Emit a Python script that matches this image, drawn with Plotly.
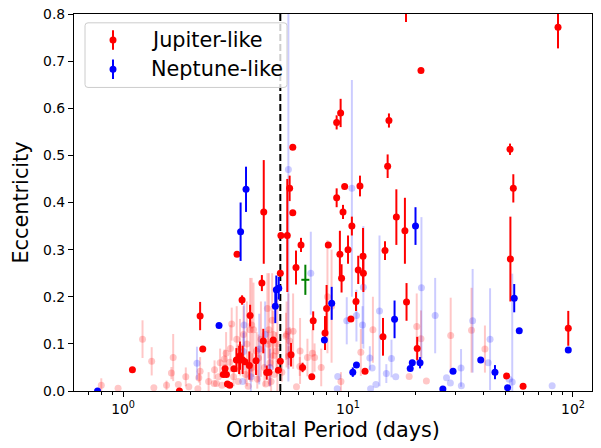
import plotly.graph_objects as go
import math

# ---------------- data ----------------
# Jupiter-like (solid red): period (days), eccentricity, 1-sigma error
jup_P = [85.8, 18.1, 21.1, 8.9, 9.27, 15.2, 5.68, 52.5, 15.0, 5.5, 8.9, 9.66, 11.3, 54.3,
         5.03, 4.22, 3.21, 5.68, 6.18, 8.17, 9.5, 10.4, 9.2, 10.0, 16.4, 17.9, 11.66, 11.1,
         11.7, 14.6, 5.87, 5.37, 5.0, 9.36, 10.85, 8.03, 7.9, 7.0, 10.3, 5.58, 5.0, 4.9, 6.28,
         6.9, 11.9, 14.3, 18.2, 20.3, 50.7, 52.7, 60.0, 95.3, 4.14, 3.38, 3.67, 2.2, 2.26,
         4.2, 4.65, 4.35, 3.64, 3.9, 3.4, 3.28, 3.48, 3.11, 2.79, 2.91, 2.98, 1.1, 1.78,
         3.19, 3.31, 4.45, 2.84, 2.88]
jup_e = [0.772, 0.84, 0.68, 0.57, 0.59, 0.574, 0.517, 0.513, 0.477, 0.43, 0.41, 0.434, 0.435, 0.43,
         0.33, 0.38, 0.29, 0.378, 0.31, 0.31, 0.38, 0.35, 0.29, 0.30, 0.369, 0.34, 0.286, 0.257,
         0.25, 0.298, 0.262, 0.33, 0.25, 0.239, 0.19, 0.175, 0.123, 0.149, 0.153, 0.077, 0.063, 0.044, 0.05,
         0.03, 0.042, 0.115, 0.189, 0.09, 0.032, 0.28, 0.01, 0.133, 0.229, 0.193, 0.16, 0.159, 0.089,
         0.106, 0.108, 0.039, 0.054, 0.064, 0.066, 0.066, 0.062, 0.047, 0.035, 0.015, 0.012, 0.045, 0.0,
         0.066, 0.075, 0.04, 0.047, 0.035]
jup_err = [0.045, 0.057, 0.0, 0.015, 0.03, 0.015, 0.0, 0.012, 0.025, 0.027, 0.02, 0.0, 0.022, 0.03,
           0.0, 0.11, 0.0, 0.0, 0.015, 0.0, 0.015, 0.02, 0.05, 0.03, 0.059, 0.07, 0.06, 0.03,
           0.04, 0.02, 0.036, 0.12, 0.0, 0.03, 0.02, 0.05, 0.036, 0.02, 0.0, 0.025, 0.0, 0.0, 0.01,
           0.0, 0.0, 0.04, 0.04, 0.025, 0.0, 0.09, 0.0, 0.037, 0.017, 0.01, 0.023, 0.03, 0.0,
           0.026, 0.0, 0.015, 0.03, 0.03, 0.03, 0.03, 0.0, 0.0, 0.0, 0.0, 0.0, 0.0, 0.0,
           0.025, 0.03, 0.0, 0.0, 0.0]

# Neptune-like (solid blue)
nep_P = [3.52, 3.33, 4.92, 4.8, 4.75, 2.67, 0.77, 8.46, 7.85, 10.5, 10.9, 16.1, 19.95, 18.9,
         19.3, 20.9, 26.4, 29.3, 38.9, 45.0, 51.2, 54.8, 57.7, 95.3]
nep_e = [0.428, 0.338, 0.218, 0.215, 0.18, 0.139, 0.0, 0.186, 0.108, 0.04, 0.055, 0.152, 0.35, 0.048,
         0.06, 0.06, 0.004, 0.042, 0.066, 0.04, 0.007, 0.197, 0.128, 0.087]
nep_err = [0.048, 0.062, 0.024, 0.03, 0.036, 0.0, 0.0, 0.035, 0.0, 0.01, 0.0, 0.04, 0.04, 0.0,
           0.0, 0.012, 0.0, 0.0, 0.0, 0.015, 0.0, 0.03, 0.0, 0.0]

# other (green) planet with period and eccentricity errors
oth_P = [6.46]
oth_e = [0.236]
oth_Perr_plus = [0.27]
oth_Perr_minus = [0.26]
oth_eerr = [0.032]

# faded Jupiter-like (light red)
fj_P = [0.8, 0.95, 1.22, 1.34, 1.37, 1.56, 1.64, 1.67, 1.76, 1.96, 2.2, 2.17, 2.15, 2.54, 2.65,
        2.6, 2.87, 2.84, 2.82, 2.98, 3.04, 3.31, 3.43, 3.73, 3.92, 4.38, 4.42, 4.65, 4.65, 4.8,
        5.33, 5.45, 5.5, 6.12, 6.1, 6.6, 5.9, 5.43, 12.9, 11.4, 20.2, 21.1, 18.7, 22.3, 28.6,
        35.4, 40.6, 8.1, 8.45, 6.95, 7.1, 5.7, 5.3, 5.08, 2.4, 2.55, 2.7, 2.75, 3.0, 3.1, 3.2,
        3.25, 3.5, 3.55, 3.6, 3.75, 3.8, 3.95, 4.0, 4.1, 4.25, 4.3, 4.5, 4.55, 4.7, 4.85,
        3.67, 4.45, 4.6, 7.6, 9.3, 1.9]
fj_e = [0.012, 0.006, 0.11, 0.063, 0.007, 0.012, 0.038, 0.071, 0.014, 0.009, 0.042, 0.028, 0.005, 0.016, 0.03,
        0.016, 0.08, 0.05, 0.068, 0.061, 0.142, 0.093, 0.12, 0.14, 0.085, 0.175, 0.099, 0.12, 0.075, 0.085,
        0.12, 0.075, 0.106, 0.085, 0.052, 0.071, 0.009, 0.127, 0.13, 0.082, 0.137, 0.111, 0.031, 0.021, 0.118,
        0.129, 0.089, 0.2, 0.18, 0.08, 0.071, 0.127, 0.116, 0.04, 0.02, 0.045, 0.06, 0.012, 0.09, 0.03, 0.11,
        0.02, 0.035, 0.1, 0.01, 0.05, 0.13, 0.025, 0.07, 0.11, 0.05, 0.015, 0.06, 0.02, 0.035, 0.1,
        0.13, 0.13, 0.15, 0.05, 0.02, 0.03]
fj_err = [0.015, 0.0, 0.04, 0.03, 0.0, 0.01, 0.013, 0.05, 0.0, 0.0, 0.03, 0.01, 0.0, 0.0, 0.0,
          0.0, 0.045, 0.0, 0.02, 0.0, 0.035, 0.06, 0.06, 0.1, 0.04, 0.075, 0.03, 0.05, 0.03, 0.04,
          0.07, 0.02, 0.03, 0.07, 0.02, 0.04, 0.0, 0.08, 0.07, 0.05, 0.07, 0.06, 0.0, 0.0, 0.08,
          0.09, 0.05, 0.12, 0.12, 0.05, 0.03, 0.08, 0.05, 0.02, 0.02, 0.02, 0.03, 0.0, 0.05, 0.02, 0.07,
          0.0, 0.02, 0.09, 0.0, 0.03, 0.1, 0.02, 0.05, 0.08, 0.04, 0.0, 0.05, 0.02, 0.0, 0.1,
          0.11, 0.12, 0.1, 0.04, 0.02, 0.02]

# faded Neptune-like (light blue)
fn_P = [2.13, 3.4, 3.43, 3.45, 4.03, 4.28, 5.43, 6.83, 9.87, 10.4, 10.9, 11.7, 11.6, 13.8,
        9.0, 8.95, 12.5, 12.8, 12.6, 13.3, 14.8, 15.6, 16.3, 21.2, 24.4, 27.4, 28.5, 31.8,
        31.9, 35.8, 42.8, 42.0, 52.0, 53.7, 80.8, 3.7, 4.5]
fn_e = [0.059, 0.02, 0.084, 0.14, 0.089, 0.12, 0.47, 0.25, 0.149, 0.43, 0.16, 0.22, 0.14, 0.17,
        0.031, 0.005, 0.07, 0.049, 0.005, 0.014, 0.037, 0.069, 0.03, 0.219, 0.16, 0.028, 0.017, 0.049,
        0.011, 0.149, 0.11, 0.06, 0.025, 0.019, 0.011, 0.03, 0.05]
fn_err = [0.035, 0.0, 0.04, 0.045, 0.075, 0.07, 0.45, 0.088, 0.05, 0.23, 0.055, 0.13, 0.04, 0.16,
          0.0, 0.0, 0.025, 0.0, 0.0, 0.0, 0.02, 0.04, 0.0, 0.15, 0.08, 0.0, 0.0, 0.04,
          0.0, 0.11, 0.108, 0.0, 0.0, 0.23, 0.0, 0.03, 0.04]

PERIOD_CUT = 5.0
x_range_days = [0.605, 121.5]
y_range = [0.0, 0.8]
x_tickvals = [1, 10, 100]
x_ticktext = ["10<sup>0</sup>", "10<sup>1</sup>", "10<sup>2</sup>"]
x_minor = [0.7, 0.8, 0.9, 2, 3, 4, 5, 6, 7, 8, 9, 20, 30, 40, 50, 60, 70, 80, 90]
y_tickvals = [0.0, 0.1, 0.2, 0.3, 0.4, 0.5, 0.6, 0.7, 0.8]
legend_labels = ["Jupiter-like", "Neptune-like"]

# ---------------- figure ----------------
FONT = "DejaVu Sans"
W, H = 601, 448
ML, MR, MT, MB = 74, 9, 6, 57
PW, PH = W - ML - MR, H - MT - MB

RED = "rgb(255,0,0)"
BLUE = "rgb(0,0,255)"
FRED = "rgba(255,0,0,0.22)"
FBLUE = "rgba(0,0,255,0.2)"


def err_trace(P, e, err, color, msize=7):
    return go.Scatter(
        x=P, y=e, mode="markers",
        marker=dict(color=color, size=msize, line=dict(width=0)),
        error_y=dict(type="data", array=err, symmetric=True, color=color, thickness=2, width=0),
        showlegend=False, hoverinfo="skip",
    )


fig = go.Figure()
fig.add_trace(err_trace(fj_P, fj_e, fj_err, FRED))
fig.add_trace(err_trace(fn_P, fn_e, fn_err, FBLUE))
fig.add_trace(go.Scatter(x=[PERIOD_CUT, PERIOD_CUT], y=y_range, mode="lines",
                         line=dict(color="black", width=2, dash="7px,3px"),
                         showlegend=False, hoverinfo="skip"))
fig.add_trace(err_trace(jup_P, jup_e, jup_err, RED))
fig.add_trace(err_trace(nep_P, nep_e, nep_err, BLUE))
fig.add_trace(go.Scatter(
    x=oth_P, y=oth_e, mode="markers",
    marker=dict(color="rgba(0,128,0,0)", size=1),
    error_x=dict(type="data", array=oth_Perr_plus, arrayminus=oth_Perr_minus, symmetric=False,
                 color="green", thickness=2, width=0),
    error_y=dict(type="data", array=oth_eerr, color="green", thickness=2, width=0),
    showlegend=False, hoverinfo="skip"))


def px(x):
    return (x - ML) / PW


def py(y):
    return (H - MB - y) / PH


shapes = []
# legend box (rounded)
x0, x1, y0, y1 = px(85), px(287), py(81), py(15)
rx, ry = 3 / PW, 3 / PH
path = (f"M {x0+rx},{y1} L {x1-rx},{y1} Q {x1},{y1} {x1},{y1-ry} L {x1},{y0+ry} "
        f"Q {x1},{y0} {x1-rx},{y0} L {x0+rx},{y0} Q {x0},{y0} {x0},{y0+ry} "
        f"L {x0},{y1-ry} Q {x0},{y1} {x0+rx},{y1} Z")
shapes.append(dict(type="path", path=path, xref="paper", yref="paper", layer="above",
                   line=dict(color="rgb(204,204,204)", width=1),
                   fillcolor="rgba(255,255,255,0.8)"))
annotations = []
for i, (lab, col) in enumerate(zip(legend_labels, [RED, BLUE])):
    cy = 32.5 + 30 * i
    shapes.append(dict(type="line", xref="paper", yref="paper", layer="above",
                       x0=px(113), x1=px(113), y0=py(cy - 10), y1=py(cy + 10),
                       line=dict(color=col, width=2)))
    shapes.append(dict(type="circle", xref="paper", yref="paper", layer="above",
                       xsizemode="pixel", ysizemode="pixel",
                       xanchor=px(113), yanchor=py(cy), x0=-3.5, x1=3.5, y0=-3.5, y1=3.5,
                       fillcolor=col, line=dict(width=0)))
    annotations.append(dict(text=lab, xref="paper", yref="paper", x=px(149), y=py(cy),
                            xanchor="left", yanchor="middle", showarrow=False,
                            font=dict(family=FONT, size=20.8, color="black")))

fig.update_layout(
    width=W, height=H,
    margin=dict(l=ML, r=MR, t=MT, b=MB),
    paper_bgcolor="white", plot_bgcolor="white",
    font=dict(family=FONT, color="black"),
    shapes=shapes, annotations=annotations,
    showlegend=False,
)
fig.update_xaxes(
    type="log", range=[math.log10(x_range_days[0]), math.log10(x_range_days[1])],
    tickvals=x_tickvals, ticktext=x_ticktext, ticks="outside", ticklen=5, tickwidth=1.1,
    tickcolor="black", tickfont=dict(family=FONT, size=13.9),
    minor=dict(tickvals=x_minor, ticks="outside", ticklen=3, tickwidth=0.8, tickcolor="black",
               showgrid=False),
    showgrid=False, zeroline=False, showline=True, linecolor="black", linewidth=1.1, mirror=True,
    title=dict(text="Orbital Period (days)", font=dict(family=FONT, size=20.8), standoff=6),
)
fig.update_yaxes(
    range=y_range, tickvals=y_tickvals, tickformat=".1f", ticks="outside", ticklen=5, tickwidth=1.1,
    tickcolor="black", tickfont=dict(family=FONT, size=13.9), ticklabeloverflow="allow",
    showgrid=False, zeroline=False, showline=True, linecolor="black", linewidth=1.1, mirror=True,
    title=dict(text="Eccentricity", font=dict(family=FONT, size=20.8), standoff=8),
)

fig.write_html("out.html", config={"displayModeBar": False},
               post_script="document.body.style.margin='0';document.body.style.padding='0';")
